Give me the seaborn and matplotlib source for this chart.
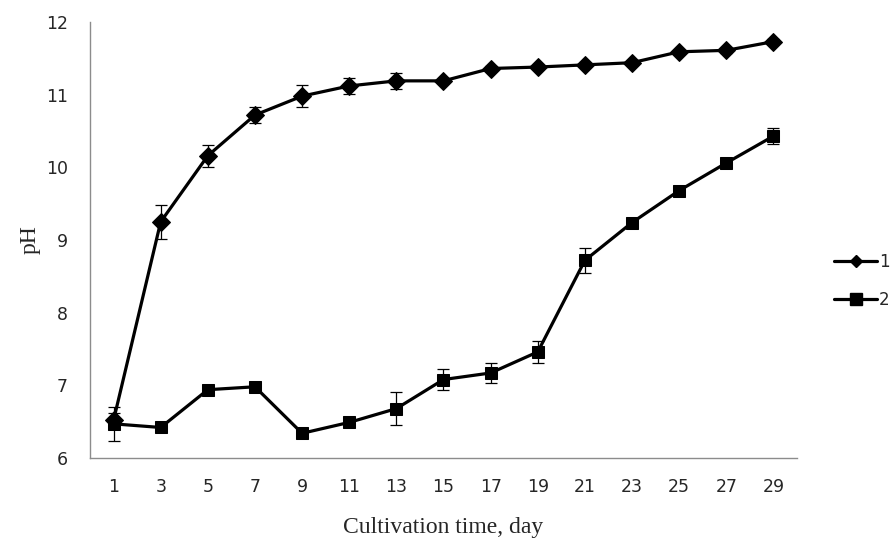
import numpy as np
import matplotlib
matplotlib.use("Agg")
import matplotlib.pyplot as plt
import seaborn as sns
import pandas as pd
from matplotlib.lines import Line2D

# Cultivation days and pH readings (mean and error)
days = [1, 3, 5, 7, 9, 11, 13, 15, 17, 19, 21, 23, 25, 27, 29]
ph_1 = [6.52, 9.25, 10.16, 10.72, 10.98, 11.12, 11.19, 11.19, 11.36, 11.38, 11.41, 11.44, 11.59, 11.61, 11.73]
err_1 = [0.10, 0.23, 0.15, 0.11, 0.15, 0.11, 0.11, 0.03, 0.03, 0.03, 0.03, 0.03, 0.03, 0.03, 0.03]
ph_2 = [6.47, 6.42, 6.94, 6.98, 6.34, 6.49, 6.68, 7.08, 7.17, 7.46, 8.72, 9.24, 9.68, 10.06, 10.43]
err_2 = [0.23, 0.03, 0.03, 0.03, 0.03, 0.03, 0.23, 0.14, 0.14, 0.15, 0.17, 0.03, 0.03, 0.03, 0.11]
series_names = ["1", "2"]
y_ticks = [6, 7, 8, 9, 10, 11, 12]

data = pd.DataFrame({
    "day": days * 2,
    "pH": ph_1 + ph_2,
    "err": err_1 + err_2,
    "series": [series_names[0]] * len(days) + [series_names[1]] * len(days),
})

sns.set_style("white")
plt.rcParams["font.family"] = ["DejaVu Sans"]

fig = plt.figure(figsize=(8.95, 5.42), dpi=100)
ax = fig.add_axes([90 / 895, 1 - 458 / 542, 707 / 895, 436 / 542])

markers = {"1": "D", "2": "s"}
sizes = {"1": 9.5, "2": 9}
for name in series_names:
    sub = data[data["series"] == name]
    ax.errorbar(sub["day"], sub["pH"], yerr=sub["err"], fmt="none",
                ecolor="black", elinewidth=0.9, capsize=4.3, capthick=0.9, zorder=2)
    sns.lineplot(data=sub, x="day", y="pH", ax=ax, color="black", linewidth=2.3,
                 marker=markers[name], markersize=sizes[name], markeredgecolor="black",
                 markerfacecolor="black", legend=False, zorder=3)

# Excel style category axis: tick marks between categories, labels at centres
ax.set_xlim(0, 30)
ax.set_xticks(np.arange(0, 31, 2))
ax.set_xticklabels([])
ax.set_xticks(days, minor=True)
ax.set_xticklabels([str(d) for d in days], minor=True, fontsize=12.5)
ax.tick_params(axis="x", which="major", length=6, width=1, color="#8c8c8c", direction="out")
ax.tick_params(axis="x", which="minor", length=0, pad=14.5)

ax.set_ylim(6, 12)
ax.set_yticks(y_ticks)
ax.set_yticklabels([str(v) for v in y_ticks], fontsize=12.5)
ax.tick_params(axis="y", length=6, width=1, color="#8c8c8c", direction="out", pad=10)

for side in ["top", "right"]:
    ax.spines[side].set_visible(False)
for side in ["left", "bottom"]:
    ax.spines[side].set_color("#8c8c8c")
    ax.spines[side].set_linewidth(1)

ax.set_xlabel("Cultivation time, day", fontfamily="Liberation Serif", fontsize=17, labelpad=15)
ax.set_ylabel("pH", fontfamily="Liberation Serif", fontsize=17, labelpad=4)

handles = [
    Line2D([], [], color="black", linewidth=2.3, marker="D", markersize=6),
    Line2D([], [], color="black", linewidth=2.3, marker="s", markersize=9),
]
fig.legend(handles, series_names, loc="center left", bbox_to_anchor=(819 / 895, 1 - 281 / 542),
           frameon=False, fontsize=12, handlelength=2.6, handletextpad=0.1, labelspacing=1.2)

fig.savefig("out.png", dpi=100)
